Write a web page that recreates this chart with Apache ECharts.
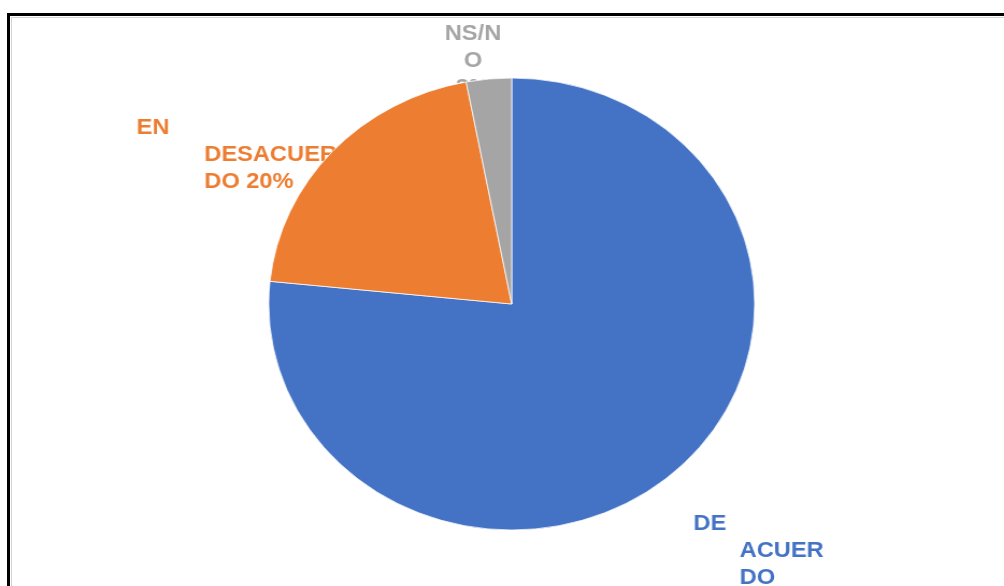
<!DOCTYPE html>
<html>
<head>
<meta charset="utf-8">
<style>
  html, body { margin: 0; padding: 0; background: #fff; overflow: hidden; }
  #chart {
    position: absolute; left: 0; top: 0;
    width: 934px; height: 586px;
    transform: scaleX(1.075); transform-origin: 0 0;
  }
  .frame { position: absolute; width: 1200px; height: 800px; pointer-events: none; }
  .outer { left: 7px; top: 13px; border-top: 3px solid #000; border-left: 3px solid #000; }
  .inner { left: 11px; top: 17px; border-top: 1px solid #d4d4d4; border-left: 1px solid #d4d4d4; }
</style>
<script src="https://cdn.jsdelivr.net/npm/echarts@6/dist/echarts.min.js"></script>
</head>
<body>
<div id="chart"></div>
<div class="frame outer"></div>
<div class="frame inner"></div>
<script>
  // categorias y porcentajes
  const categories = ['DE ACUERDO', 'EN DESACUERDO', 'NS/NO']
  const values = [76.6, 20.4, 3.0]
  const colors = ['#4472C4', '#ED7D31', '#A5A5A5']
  // cortes de linea tal como salen en la imagen
  const labelLines = [
    ['DE', 'ACUER', 'DO', '77%'],
    ['EN', 'DESACUER', 'DO 20%'],
    ['NS/N', 'O', '3%']
  ]

  const chart = echarts.init(document.getElementById('chart'))

  const labelPos = [
    { x: 645, y: 510, align: 'left', indent: 43 },
    { x: 127, y: 114, align: 'left', indent: 63 },
    { x: 440, y: 20, align: 'center', indent: 0 }
  ]

  const pieData = categories.map((name, i) => ({
    name: name,
    value: values[i],
    itemStyle: { color: colors[i] }
  }))

  const labelData = categories.map((name, i) => ({
    name: name,
    value: values[i],
    itemStyle: { color: 'rgba(0,0,0,0)' },
    label: {
      color: colors[i],
      align: labelPos[i].align,
      formatter: () => labelLines[i].map((t, k) =>
        (k === 0 || labelPos[i].indent === 0) ? '{a|' + t + '}' : '{b' + i + '|' + t + '}'
      ).join('\n')
    }
  }))

  const rich = { a: { fontSize: 22, fontWeight: 'bold', lineHeight: 27, fontFamily: 'Liberation Sans, Arial, sans-serif' } }
  labelPos.forEach((p, i) => {
    rich['b' + i] = { fontSize: 22, fontWeight: 'bold', lineHeight: 27, fontFamily: 'Liberation Sans, Arial, sans-serif', padding: [0, 0, 0, p.indent] }
  })

  const option = {
    animation: false,
    backgroundColor: 'transparent',
    series: [
      {
        // solo etiquetas, debajo del pastel
        type: 'pie',
        z: 1,
        center: [476, 304],
        radius: 226,
        startAngle: 90,
        clockwise: true,
        avoidLabelOverlap: false,
        silent: true,
        label: {
          show: true,
          position: 'outside',
          fontSize: 22,
          fontWeight: 'bold',
          fontFamily: 'Liberation Sans, Arial, sans-serif',
          lineHeight: 27,
          rich: rich
        },
        labelLine: { show: false },
        labelLayout: function (params) {
          const p = labelPos[params.dataIndex]
          return { x: p.x, y: p.y, align: p.align, verticalAlign: 'top' }
        },
        data: labelData
      },
      {
        type: 'pie',
        z: 2,
        center: [476, 304],
        radius: 226,
        startAngle: 90,
        clockwise: true,
        label: { show: false },
        labelLine: { show: false },
        itemStyle: { borderColor: '#fff', borderWidth: 0.75 },
        data: pieData
      }
    ]
  }

  chart.setOption(option)
</script>
</body>
</html>
